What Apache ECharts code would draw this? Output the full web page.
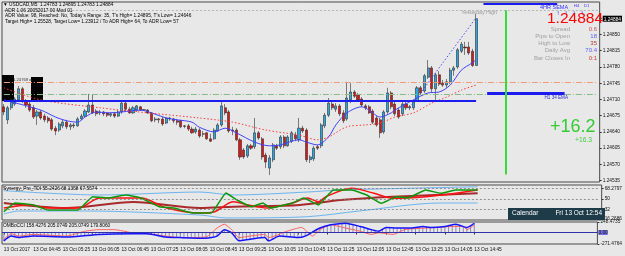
<!DOCTYPE html>
<html>
<head>
<meta charset="utf-8">
<script src="https://cdn.jsdelivr.net/npm/echarts@6/dist/echarts.min.js"></script>
<style>
html, body { margin: 0; padding: 0; background: #e8e8e8; }
#chart { width: 625px; height: 256px; }
</style>
</head>
<body>
<div id="chart"></div>
<script>
// USDCAD M5, 13 Oct 2017, bars 04:05 .. 14:45
const opens = [1.24694,1.24666,1.24692,1.24700,1.24709,1.24733,1.24707,1.24700,1.24692,1.24674,
  1.24683,1.24674,1.24670,1.24666,1.24648,1.24644,1.24653,1.24661,1.24651,1.24655,
  1.24653,1.24668,1.24674,1.24683,1.24698,1.24685,1.24681,1.24683,1.24681,1.24676,
  1.24679,1.24674,1.24683,1.24702,1.24689,1.24681,1.24687,1.24694,1.24687,1.24687,
  1.24681,1.24666,1.24668,1.24668,1.24659,1.24670,1.24668,1.24664,1.24664,1.24653,
  1.24653,1.24646,1.24640,1.24644,1.24636,1.24638,1.24625,1.24625,1.24642,1.24655,
  1.24692,1.24683,1.24644,1.24644,1.24623,1.24601,1.24588,1.24610,1.24608,1.24638,
  1.24625,1.24590,1.24562,1.24580,1.24610,1.24608,1.24629,1.24610,1.24620,1.24633,
  1.24623,1.24648,1.24644,1.24580,1.24582,1.24608,1.24610,1.24653,1.24676,1.24700,
  1.24689,1.24696,1.24681,1.24668,1.24709,1.24726,1.24720,1.24711,1.24696,1.24694,
  1.24685,1.24670,1.24666,1.24640,1.24683,1.24724,1.24700,1.24687,1.24679,1.24700,
  1.24694,1.24692,1.24707,1.24735,1.24728,1.24758,1.24778,1.24733,1.24763,1.24745,
  1.24741,1.24748,1.24773,1.24780,1.24814,1.24823,1.24823,1.24814,1.24783];
const closes = [1.24683,1.24692,1.24709,1.24711,1.24733,1.24707,1.24698,1.24687,1.24672,1.24683,
  1.24670,1.24666,1.24664,1.24646,1.24642,1.24657,1.24661,1.24651,1.24655,1.24653,
  1.24668,1.24674,1.24685,1.24698,1.24681,1.24679,1.24683,1.24679,1.24676,1.24679,
  1.24674,1.24683,1.24702,1.24689,1.24681,1.24692,1.24696,1.24687,1.24688,1.24681,
  1.24664,1.24668,1.24666,1.24657,1.24670,1.24668,1.24664,1.24661,1.24651,1.24652,
  1.24646,1.24638,1.24646,1.24631,1.24635,1.24625,1.24620,1.24644,1.24655,1.24696,
  1.24681,1.24642,1.24642,1.24623,1.24586,1.24586,1.24610,1.24605,1.24638,1.24627,
  1.24586,1.24575,1.24584,1.24612,1.24605,1.24629,1.24610,1.24629,1.24638,1.24625,
  1.24648,1.24642,1.24580,1.24586,1.24605,1.24605,1.24655,1.24676,1.24702,1.24692,
  1.24696,1.24679,1.24664,1.24713,1.24726,1.24717,1.24709,1.24698,1.24692,1.24681,
  1.24661,1.24655,1.24638,1.24683,1.24724,1.24694,1.24679,1.24672,1.24700,1.24692,
  1.24692,1.24705,1.24735,1.24724,1.24761,1.24778,1.24733,1.24763,1.24743,1.24741,
  1.24748,1.24773,1.24778,1.24817,1.24829,1.24821,1.24810,1.24783,1.24884];
const highs = [1.24700,1.24696,1.24713,1.24715,1.24739,1.24737,1.24711,1.24705,1.24698,1.24687,
  1.24687,1.24679,1.24674,1.24670,1.24653,1.24661,1.24666,1.24666,1.24659,1.24659,
  1.24672,1.24679,1.24689,1.24722,1.24720,1.24689,1.24687,1.24685,1.24683,1.24681,
  1.24683,1.24687,1.24705,1.24707,1.24694,1.24696,1.24698,1.24696,1.24689,1.24689,
  1.24683,1.24672,1.24670,1.24672,1.24672,1.24672,1.24670,1.24668,1.24666,1.24655,
  1.24657,1.24651,1.24651,1.24648,1.24642,1.24640,1.24636,1.24648,1.24659,1.24705,
  1.24700,1.24687,1.24651,1.24648,1.24627,1.24605,1.24614,1.24614,1.24670,1.24642,
  1.24629,1.24595,1.24590,1.24616,1.24614,1.24633,1.24633,1.24633,1.24642,1.24640,
  1.24670,1.24653,1.24648,1.24590,1.24610,1.24612,1.24659,1.24681,1.24713,1.24705,
  1.24702,1.24700,1.24687,1.24748,1.24745,1.24730,1.24724,1.24715,1.24700,1.24698,
  1.24689,1.24674,1.24670,1.24687,1.24735,1.24728,1.24705,1.24692,1.24705,1.24705,
  1.24698,1.24709,1.24739,1.24739,1.24765,1.24795,1.24782,1.24767,1.24771,1.24752,
  1.24754,1.24778,1.24782,1.24821,1.24834,1.24834,1.24834,1.24819,1.24895];
const lows = [1.24676,1.24657,1.24687,1.24696,1.24707,1.24702,1.24692,1.24683,1.24668,1.24655,
  1.24666,1.24661,1.24659,1.24642,1.24633,1.24640,1.24648,1.24646,1.24644,1.24648,
  1.24651,1.24666,1.24672,1.24681,1.24679,1.24674,1.24676,1.24674,1.24672,1.24672,
  1.24670,1.24672,1.24679,1.24685,1.24679,1.24679,1.24683,1.24685,1.24685,1.24679,
  1.24661,1.24661,1.24659,1.24653,1.24657,1.24664,1.24659,1.24655,1.24648,1.24648,
  1.24642,1.24636,1.24636,1.24627,1.24629,1.24623,1.24618,1.24623,1.24640,1.24651,
  1.24676,1.24638,1.24633,1.24620,1.24580,1.24582,1.24584,1.24601,1.24603,1.24623,
  1.24580,1.24562,1.24547,1.24575,1.24601,1.24603,1.24605,1.24608,1.24616,1.24620,
  1.24618,1.24638,1.24575,1.24573,1.24577,1.24601,1.24605,1.24648,1.24672,1.24687,
  1.24683,1.24674,1.24659,1.24664,1.24702,1.24713,1.24705,1.24694,1.24687,1.24679,
  1.24657,1.24651,1.24627,1.24636,1.24679,1.24689,1.24674,1.24668,1.24674,1.24687,
  1.24687,1.24687,1.24705,1.24720,1.24724,1.24754,1.24726,1.24709,1.24739,1.24737,
  1.24735,1.24743,1.24761,1.24776,1.24810,1.24806,1.24806,1.24780,1.24783];

// moving averages: [bar index, price]
const fastMA = [[0,1.24709],[10,1.24687],[14,1.24672],[17,1.24664],[20,1.24661],[22,1.24672],[25,1.24683],
  [28,1.24681],[32,1.24683],[37,1.24687],[40,1.24681],[44,1.24670],[47,1.24666],[51,1.24661],[53,1.24650],
  [57,1.24640],[60,1.24648],[63,1.24638],[68,1.24618],[72,1.24610],[75,1.24612],[80,1.24623],[82,1.24618],
  [85,1.24612],[88,1.24629],[90,1.24655],[93,1.24681],[97,1.24694],[99,1.24687],[102,1.24672],[105,1.24681],
  [106,1.24687],[111,1.24709],[115,1.24724],[118,1.24726],[121,1.24741],[124,1.24773],[127,1.24789],[128,1.24795]];
const slowMA = [[0,1.24735],[10,1.24709],[26,1.24692],[39,1.24681],[53,1.24670],[62,1.24661],[71,1.24644],
  [80,1.24633],[85,1.24623],[88,1.24629],[93,1.24651],[98,1.24655],[102,1.24659],[106,1.24672],[111,1.24681],
  [116,1.24702],[120,1.24715],[124,1.24730],[128,1.24741]];
const upperTrend = [[110,1.24692],[128,1.24886]];

// price levels
const levelOrange = 1.24746;
const levelGreen = 1.24722;
const levelBlue = 1.24707;
const yesterdayHigh = 1.24903;
const h1Ema = 1.24723;
const h4Sema = 1.24916;
const lastPrice = 1.24884;
const priceTicks = [1.24535,1.2457,1.24605,1.2464,1.24675,1.2471,1.24745,1.2478,1.24815,1.2485,1.24884];

// Synergy TDI
const tdiGreen = [[0,28.3],[3,43.3],[8,39.8],[12,31.2],[20,31.2],[24,54.1],[28,51.9],[33,57.1],[37,51.9],[42,36.9],
  [46,34.7],[51,26.1],[56,26.1],[60,60.5],[63,48.4],[67,36.9],[70,43.3],[72,34.7],[78,43.3],[81,51.9],[85,39.8],
  [88,60],[89,65.7],[94,65.7],[98,57.1],[102,42.8],[106,54.1],[109,51.9],[114,65.7],[118,60],[122,65.7],[128,65.7]];
const tdiRed = [[0,34.7],[7,39.8],[12,34.7],[20,34.7],[26,51.9],[37,51.9],[44,34.7],[53,26.1],[57,28.3],[62,45.5],
  [66,39.8],[71,34.7],[78,43.3],[82,51.9],[85,45.5],[87,54.1],[94,68.6],[100,60],[105,51.4],[114,54.1],[122,60],[128,65.7]];
const tdiUpper = [[0,64.5],[26,57.1],[53,62.2],[62,57.1],[82,62.2],[91,65.7],[128,71.3]];
const tdiLower = [[0,24.3],[4,29.5],[22,29.5],[53,22.6],[60,17.5],[82,19.7],[96,29.5],[118,43.3],[128,43.3]];
const tdiBase = [[0,43.3],[17,34.7],[35,45],[53,34.7],[62,36.9],[80,39.8],[91,48.4],[105,54.1],[128,60]];
const tdiLevels = [32, 50, 68];
const tdiTicks = [16.2686, 32, 50, 68.2797];

// CCI
const cciBlue = [[0,-197],[2,-84],[4,-120],[8,-84],[17,-106],[26,-45],[35,-30],[39,-30],[44,-106],[48,-120],[55,-136],
  [58,-84],[60,68],[62,-7],[64,-197],[67,-158],[71,-120],[72,-197],[75,-84],[80,-120],[82,-84],[86,106],[89,181],
  [93,219],[97,142],[100,68],[102,29],[104,120],[107,106],[111,106],[114,142],[116,120],[120,142],[123,196],[126,120],[128,219]];
const cciRed = [[0,-158],[2,-29],[4,-84],[8,-45],[17,-84],[22,29],[26,68],[30,68],[35,-7],[39,-30],[44,-84],[48,-120],
  [55,-106],[58,106],[60,196],[62,68],[64,-120],[67,-84],[71,-45],[72,-120],[77,29],[81,120],[84,-84],[86,68],[89,181],
  [93,106],[97,29],[100,-45],[102,-7],[106,-45],[109,68],[115,106],[118,120],[122,142],[125,142],[126,68],[128,181]];
const cciHist = [-197,-150,-84,-100,-120,-110,-100,-90,-84,-90,
  -95,-100,-100,-105,-105,-106,-106,-106,-100,-95,
  -85,-75,-65,-55,-50,-48,-45,-42,-40,-38,
  -35,-33,-32,-31,-30,-30,-30,-30,-30,-30,
  -45,-60,-75,-90,-106,-110,-115,-118,-120,-122,
  -125,-128,-130,-133,-136,-136,-120,-100,-84,-10,
  68,30,-7,-100,-197,-185,-170,-158,-145,-135,
  -125,-120,-197,-150,-110,-84,-95,-105,-110,-115,
  -120,-100,-84,-20,40,80,106,135,160,181,
  190,200,210,219,200,180,160,142,120,90,
  68,50,29,75,120,115,110,106,106,106,
  106,106,115,125,142,130,120,125,130,135,
  142,160,180,196,170,145,120,170,219];
const cciMin = -271.4764, cciMax = 248.4735;

const xLabels = ['13 Oct 2017','13 Oct 04:45','13 Oct 05:25','13 Oct 06:05','13 Oct 06:45','13 Oct 07:25',
  '13 Oct 08:05','13 Oct 08:45','13 Oct 09:25','13 Oct 10:05','13 Oct 10:45','13 Oct 11:25','13 Oct 12:05',
  '13 Oct 12:45','13 Oct 13:25','13 Oct 14:05','13 Oct 14:45'];

const headerLines = ['\u25BC USDCAD,M5  1.24783 1.24895 1.24783 1.24884',
  'ADR 1.06 20052017 00 Mod 01',
  "ADR Value: 98, Reached: No, Today's Range: 35, T's High= 1.24895, T's Low= 1.24646",
  'Target High= 1.25528, Target Low= 1.23912 / To ADR High= 64, To ADR Low= 57'];
const infoLabels = ['Spread', 'Pips to Open', 'High to Low', 'Daily Avg', 'Bar Closes In'];
const infoValues = ['0.6', '18', '35', '70.4', '0:1'];
const infoColors = ['#d05050', '#5a5aff', '#b03a3a', '#5a5aff', '#d04040'];

const FONT = '"Liberation Sans", Arial, sans-serif';
const N = 162; // bar slots incl. empty right margin
const LAST = opens.length - 1;
const cats = [];
for (let i = 0; i < N; i++) cats.push(i % 8 === 0 && i / 8 < xLabels.length ? xLabels[i / 8] : '');
const candles = opens.map((o, i) => [o, closes[i], lows[i], highs[i]]);
const showAt = (i) => i % 8 === 0 && i <= LAST;

const gridBase = { left: 2, right: 20, show: true, borderColor: '#4a4a4a', borderWidth: 1, backgroundColor: 'transparent' };
const lineS = (data, color, width, type, x, y, smooth) => ({
  type: 'line', data, xAxisIndex: x, yAxisIndex: y, symbol: 'none', silent: true,
  smooth: smooth === undefined ? 0.3 : smooth,
  lineStyle: { color, width, type: type || 'solid' }, z: 3
});
const T = (x, y, text, size, fill, align, weight) => ({
  type: 'text', x, y, silent: true, z: 100,
  style: { text, fontSize: size, fill, fontFamily: FONT, fontWeight: weight || 'normal', align: align || 'left', verticalAlign: 'middle' }
});
// two-point segment between bar slots
const seg = (x0, v0, x1, v1, color, width, type) => [
  { coord: [x0, v0], lineStyle: { color, width, type: type || 'solid' } },
  { coord: [x1, v1] }
];

const graphic = [];
headerLines.forEach((s, i) => graphic.push(T(i === 0 ? 3 : 5, [5, 10.7, 16, 21.3][i], s, 4.8, '#000')));
graphic.push({ type: 'rect', z: 1, silent: true, shape: { x: 2, y: 75, width: 12, height: 26 }, style: { fill: '#000' } });
graphic.push({ type: 'rect', z: 1, silent: true, shape: { x: 31, y: 77, width: 12, height: 24 }, style: { fill: '#000' } });
graphic.push(T(13, 79.5, '1.24769 d', 4.2, '#333'));
graphic.push(T(603, 19, '1.24884', 15.5, '#ff0000', 'right'));
infoLabels.forEach((s, i) => {
  const y = [29.3, 36, 43.3, 50.7, 58.7][i];
  graphic.push(T(570, y, s, 6, '#a0a0a0', 'right'));
  graphic.push(T(597, y, infoValues[i], 6, infoColors[i], 'right'));
});
graphic.push(T(540, 7, '4HR SEMA', 5.5, '#3030ff'));
graphic.push(T(574, 6, 'H4', 4, '#3030ff'));
graphic.push(T(584, 6, 'D1', 4, '#3030ff'));
[558, 566, 574, 582].forEach(x => graphic.push(T(x, 13, '\u2191', 6.5, '#2020ff', 'center', 'bold')));
graphic.push(T(497, 12.5, 'Yesterday High', 5.3, '#9a9a9a', 'right'));
graphic.push(T(568, 97.5, 'H1 34 EMA', 4.6, '#2a2ad0', 'right'));
graphic.push(T(550, 127, '+16.2', 18, '#33cc33'));
graphic.push(T(592, 140.5, '+16.3', 6.7, '#44cc44', 'right'));
graphic.push({ type: 'rect', z: 90, silent: true, shape: { x: 508, y: 208, width: 97, height: 12 }, style: { fill: '#1e3b4a' } });
graphic.push(T(512, 213, 'Calendar', 6.5, '#ffffff'));
graphic.push(T(602, 213, 'Fri 13 Oct 12:54', 6.5, '#ffffff', 'right'));
graphic.push(T(3, 188.5, 'Synergy_Pro_TDI 55.2426 68.1358 67.5574', 4.8, '#000'));
graphic.push(T(3, 225.5, 'OMBoCCI 158.4276 205.0749 205.0749 179.8060', 4.8, '#000'));

const axisLabelBase = { fontSize: 4.8, color: '#111', fontFamily: FONT, margin: 3 };
const ml = (data) => ({ silent: true, symbol: 'none', animation: false, label: { show: false }, data });

const option = {
  animation: false,
  backgroundColor: '#e8e8e8',
  graphic,
  grid: [
    Object.assign({ top: 2, height: 180 }, gridBase),
    Object.assign({ top: 185, height: 35 }, gridBase),
    Object.assign({ top: 222, height: 22 }, gridBase)
  ],
  xAxis: [0, 1, 2].map(g => ({
    type: 'category', gridIndex: g, data: cats, boundaryGap: true,
    axisLine: { show: false }, splitLine: { show: false },
    axisTick: { show: g === 2, interval: showAt, alignWithLabel: true, length: 2, lineStyle: { color: '#333' } },
    axisLabel: Object.assign({}, axisLabelBase, { show: g === 2, interval: showAt, align: 'left', margin: 3 })
  })),
  yAxis: [
    {
      gridIndex: 0, position: 'right', min: 1.24532, max: 1.2492, scale: true,
      splitLine: { show: false }, axisLine: { show: false },
      axisTick: { show: true, length: 2, customValues: priceTicks, lineStyle: { color: '#333' } },
      axisLabel: Object.assign({}, axisLabelBase, {
        customValues: priceTicks,
        formatter: v => Math.abs(v - lastPrice) < 1e-7 ? '{hl|' + v.toFixed(5) + '}' : v.toFixed(5),
        rich: { hl: { backgroundColor: '#000', color: '#fff', fontSize: 4.8, padding: [1, 1, 0, 1], fontFamily: FONT } }
      })
    },
    {
      gridIndex: 1, position: 'right', min: 14, max: 74.3,
      splitLine: { show: false }, axisLine: { show: false },
      axisTick: { show: true, length: 2, customValues: tdiTicks, lineStyle: { color: '#333' } },
      axisLabel: Object.assign({}, axisLabelBase, {
        customValues: tdiTicks,
        formatter: v => (v === 32 || v === 50) ? String(v) : v.toFixed(4)
      })
    },
    {
      gridIndex: 2, position: 'right', min: cciMin, max: cciMax,
      splitLine: { show: false }, axisLine: { show: false },
      axisTick: { show: true, length: 2, customValues: [cciMin, cciMax], lineStyle: { color: '#333' } },
      axisLabel: Object.assign({}, axisLabelBase, { customValues: [cciMin, cciMax], formatter: v => v.toFixed(4) })
    }
  ],
  series: [
    {
      type: 'candlestick', xAxisIndex: 0, yAxisIndex: 0, data: candles, barWidth: 2.6, silent: true,
      itemStyle: { color: '#2aa7e2', color0: '#e01414', borderColor: '#2d2d2d', borderColor0: '#2d2d2d', borderWidth: 0.6 },
      markLine: ml([
        seg(0, yesterdayHigh, N - 1, yesterdayHigh, '#b4b4b4', 1, [2, 2]),
        seg(0, levelOrange, N - 1, levelOrange, '#f09a78', 1.2, [6, 2, 1, 2]),
        seg(0, levelGreen, N - 1, levelGreen, '#86bc86', 1.2, [6, 2, 1, 2]),
        seg(0, levelBlue, LAST, levelBlue, '#1c1cf0', 2),
        seg(131, h1Ema, 152, h1Ema, '#1c1cf0', 3),
        seg(130, h4Sema, 150, h4Sema, '#1c1cf0', 2),
        seg(136, 1.24902, 136, 1.24548, '#33dd33', 2)
      ])
    },
    lineS(fastMA, '#4040ff', 1, 'solid', 0, 0),
    lineS(slowMA, '#ff3a3a', 1, [1.5, 2], 0, 0),
    lineS(upperTrend, '#4a4aff', 1, [1.5, 2], 0, 0, false),

    Object.assign(lineS(tdiUpper, '#6cb4f0', 1, 'solid', 1, 1), {
      markLine: ml(tdiLevels.map(v => seg(0, v, N - 1, v, '#7a7a7a', 0.8, [2, 2])))
    }),
    lineS(tdiLower, '#6cb4f0', 1, 'solid', 1, 1),
    lineS(tdiBase, '#a82a2a', 2, 'solid', 1, 1),
    lineS(tdiRed, '#ff1010', 1.5, 'solid', 1, 1),
    lineS(tdiGreen, '#0a990a', 1.5, 'solid', 1, 1, 0.1),

    {
      type: 'bar', xAxisIndex: 2, yAxisIndex: 2, data: cciHist, barWidth: 0.8, silent: true,
      itemStyle: { color: '#8a8ab8' },
      markLine: {
        silent: true, symbol: 'none', animation: false,
        label: { show: true, position: 'end', formatter: '0.00', fontSize: 4.8, color: '#111', fontFamily: FONT,
          backgroundColor: '#7070e0', padding: [0, 0], distance: 1 },
        data: [{ yAxis: 0, lineStyle: { color: '#3030a8', width: 1.2, type: 'solid' } }]
      }
    },
    lineS(cciRed, '#ff6060', 1, 'solid', 2, 2, 0.2),
    lineS(cciBlue, '#1414ff', 1.5, 'solid', 2, 2, 0.2)
  ]
};

const chart = echarts.init(document.getElementById('chart'));
chart.setOption(option);
window.addEventListener('resize', () => chart.resize());
</script>
</body>
</html>
